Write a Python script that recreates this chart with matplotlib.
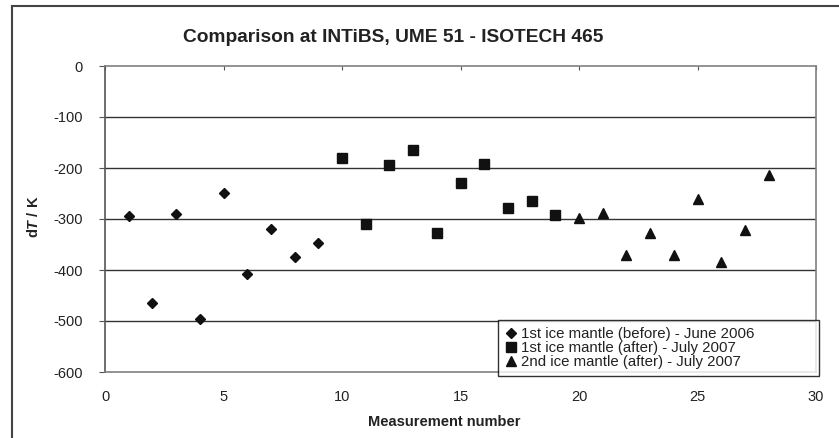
import numpy as np
import matplotlib
matplotlib.use("Agg")
import matplotlib.pyplot as plt
from matplotlib.lines import Line2D

plt.rcParams['font.family'] = ['Liberation Sans', 'DejaVu Sans']
plt.rcParams['mathtext.fontset'] = 'custom'
plt.rcParams['mathtext.it'] = 'Liberation Sans:italic:bold'
plt.rcParams['mathtext.rm'] = 'Liberation Sans:bold'
plt.rcParams['axes.unicode_minus'] = False

# data
x_before = [1, 2, 3, 4, 5, 6, 7, 8, 9]
dt_before = [-294, -465, -290, -496, -249, -408, -319, -374, -347]
x_after1 = [10, 11, 12, 13, 14, 15, 16, 17, 18, 19]
dt_after1 = [-180, -310, -195, -165, -328, -230, -193, -279, -265, -293]
x_after2 = [20, 21, 22, 23, 24, 25, 26, 27, 28]
dt_after2 = [-298, -288, -371, -327, -371, -261, -384, -322, -214]
labels = ["1st ice mantle (before) - June 2006",
          "1st ice mantle (after) - July 2007",
          "2nd ice mantle (after) - July 2007"]

W, H = 839, 438
fig = plt.figure(figsize=(W / 100, H / 100), dpi=100)
ax = fig.add_axes([105 / W, 1 - 372 / H, 711 / W, 306 / H])

mk = '#111111'
ax.plot(x_before, dt_before, 'D', color=mk, ms=5.5, ls='none', label=labels[0])
ax.plot(x_after1, dt_after1, 's', color=mk, ms=7.5, ls='none', label=labels[1])
ax.plot(x_after2, dt_after2, '^', color=mk, ms=7.5, ls='none', label=labels[2])

ax.set_xlim(0, 30)
ax.set_ylim(-600, 0)
ax.set_xticks(np.arange(0, 31, 5))
ax.set_yticks(np.arange(-600, 1, 100))
for y in range(-500, 0, 100):
    ax.axhline(y, color='#333333', lw=1, zorder=0)

for s in ax.spines.values():
    s.set_color('#808080')
    s.set_linewidth(1.2)
ax.spines['left'].set_color('#555555')

ax.tick_params(axis='x', bottom=False, top=True, direction='in', length=3,
               color='#555555', labelbottom=True, labeltop=False, pad=13,
               labelsize=10.5, labelcolor='#222222')
ax.tick_params(axis='y', direction='out', length=4, color='#555555', pad=12,
               labelsize=10.5, labelcolor='#222222')

fig.text(444 / W, 1 - 422 / H, "Measurement number", fontsize=10.5,
         fontweight='bold', ha='center', va='center', color='#222222')
fig.text(33 / W, 1 - 217 / H, r"d$T$ / K", rotation=90, fontsize=10.5,
         fontweight='bold', ha='center', va='center', color='#222222')
fig.text(393 / W, 1 - 37 / H, "Comparison at INTiBS, UME 51 - ISOTECH 465",
         fontsize=13.8, fontweight='bold', ha='center', va='center',
         color='#222222')

leg = ax.legend(loc='upper left',
                bbox_to_anchor=(498 / W, 1 - 373 / H, 321 / W, 53 / H),
                bbox_transform=fig.transFigure, mode='expand',
                fontsize=10.8, frameon=True, fancybox=False, edgecolor='black',
                borderpad=0.45, labelspacing=0.0, handlelength=0.8,
                handletextpad=0.3, borderaxespad=0, markerscale=0.9)
leg.get_frame().set_linewidth(1.0)
for t in leg.get_texts():
    t.set_color('#222222')

# outer chart frame
fig.add_artist(Line2D([12 / W, 12 / W], [-0.1, 1 - 6 / H], color='#444444', lw=1.5))
fig.add_artist(Line2D([12 / W, 1.1], [1 - 6 / H, 1 - 6 / H], color='#444444', lw=1.5))

fig.savefig("out.png", dpi=100)
